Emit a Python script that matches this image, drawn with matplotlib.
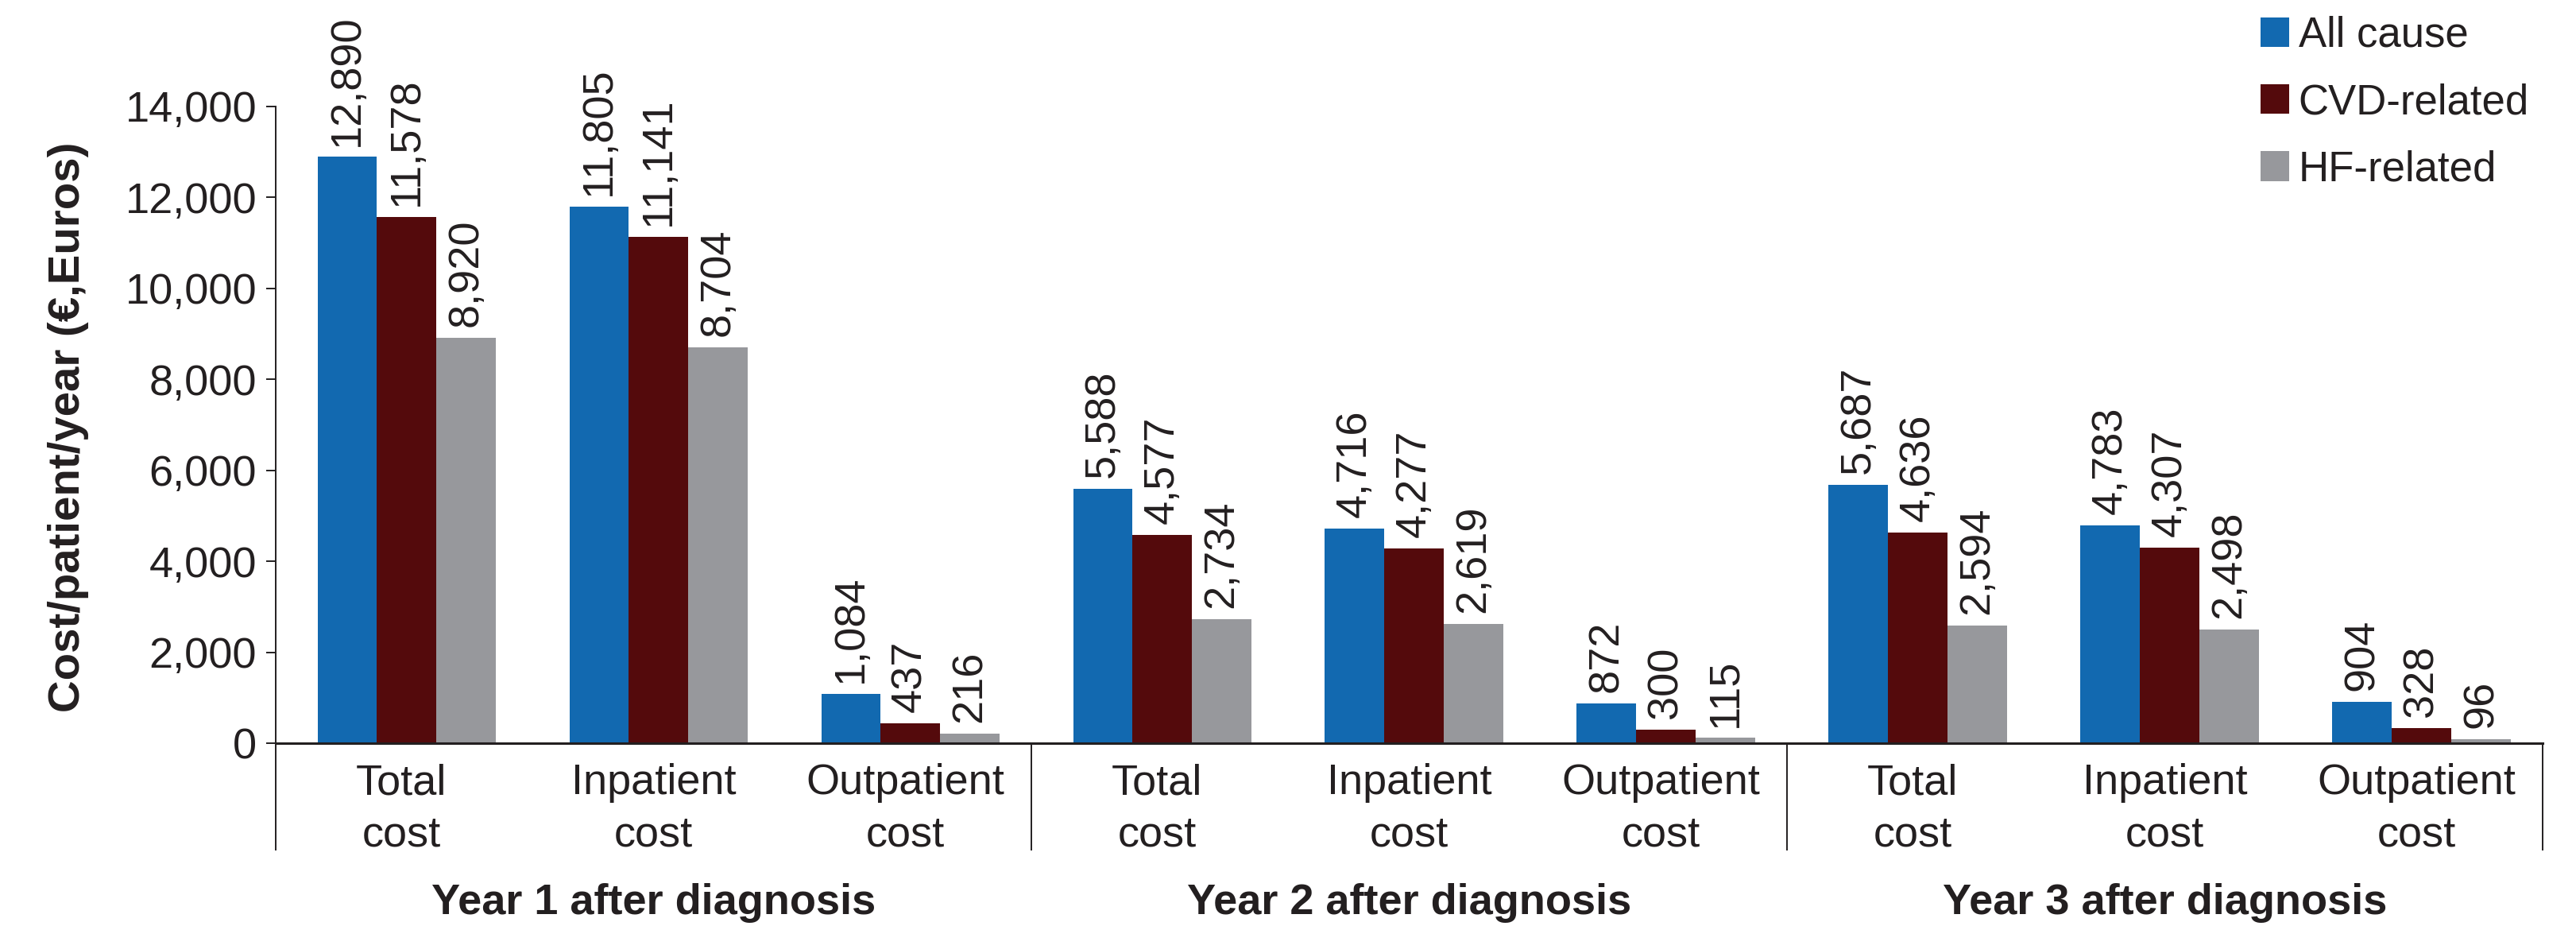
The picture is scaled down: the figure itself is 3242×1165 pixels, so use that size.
# -*- coding: UTF-8 -*-

"""Per-patient yearly cost after HF diagnosis, split by cost type and cause
"""

#+++++++++++++++++++++++++++++++++++++++++++++++++++++++++++++++++++++++++++++#

import numpy as np
import matplotlib
matplotlib.use('Agg')
import matplotlib.pyplot as plt
from matplotlib.ticker import FuncFormatter
from matplotlib.patches import Patch

plt.rcParams['font.family'] = ['Liberation Sans', 'DejaVu Sans']

#+++++++++++++++++++++++++++++++++++++++++++++++++++++++++++++++++++++++++++++#

YEARS = [ 'Year 1 after diagnosis', 'Year 2 after diagnosis',
  'Year 3 after diagnosis' ]
COST_TYPES = [ 'Total\ncost', 'Inpatient\ncost', 'Outpatient\ncost' ]
SERIES = [ 'All cause', 'CVD-related', 'HF-related' ]

# values per year: Total, Inpatient, Outpatient
ALL_CAUSE = [ 12890, 11805, 1084, 5588, 4716, 872, 5687, 4783, 904 ]
CVD_RELATED = [ 11578, 11141, 437, 4577, 4277, 300, 4636, 4307, 328 ]
HF_RELATED = [ 8920, 8704, 216, 2734, 2619, 115, 2594, 2498, 96 ]

COLORS = [ '#1269b0', '#540a0c', '#97989c' ]
INK = '#231f20'

FS = 19.5
WIDTH = 0.236

#+++++++++++++++++++++++++++++++++++++++++++++++++++++++++++++++++++++++++++++#

if __name__ == '__main__':

  fig = plt.figure(figsize = (16.21, 5.825), dpi = 200)
  ax = fig.add_axes([0.107, 0.1974, 0.880, 0.6876])

  centers = np.arange(len(ALL_CAUSE)) + 0.52

  for s, vals in enumerate( [ ALL_CAUSE, CVD_RELATED, HF_RELATED ] ):

    xs = centers + (s - 1) * WIDTH

    ax.bar(xs, vals, width = WIDTH, color = COLORS[s], linewidth = 0,
      zorder = 2)

    for x, v in zip( xs, vals ):
      ax.annotate(
        '{:,}'.format(v),
        xy = (x, v),
        xytext = (0, 5),
        textcoords = 'offset points',
        rotation = 90,
        ha = 'center',
        va = 'bottom',
        fontsize = FS,
        color = INK,
        annotation_clip = False)

  ax.set_xlim(0, 9)
  ax.set_ylim(0, 14000)
  ax.set_yticks(np.arange(0, 14001, 2000))
  ax.yaxis.set_major_formatter(FuncFormatter(lambda v, p: '{:,}'.format(int(v))))

  ax.set_xticks(np.arange(9) + 0.5)
  ax.set_xticklabels(COST_TYPES * 3, linespacing = 1.4)
  ax.tick_params(axis = 'x', length = 0, pad = 9, labelsize = FS,
    colors = INK)
  ax.tick_params(axis = 'y', length = 4.3, width = 0.7, pad = 4.3,
    labelsize = FS, colors = INK)

  for side in [ 'top', 'right' ]:
    ax.spines[side].set_visible(False)
  ax.spines['left'].set_linewidth(0.7)
  ax.spines['left'].set_color(INK)
  ax.spines['bottom'].set_linewidth(1.1)
  ax.spines['bottom'].set_color(INK)

  # group separators and year labels below the axis
  trans = ax.get_xaxis_transform()
  for g in range(4):
    ax.plot([3 * g, 3 * g], [0, -0.167], transform = trans, color = INK,
      linewidth = 0.7, clip_on = False)
  for g, year in enumerate( YEARS ):
    ax.text(3 * g + 1.5, -0.268, year, transform = trans, ha = 'center',
      va = 'baseline', fontsize = FS, fontweight = 'bold', color = INK)

  ax.set_ylabel('Cost/patient/year (€,Euros)', fontsize = 20.3,
    fontweight = 'bold', color = INK)
  ax.yaxis.set_label_coords(-0.0824, 0.497)

  handles = [ Patch(facecolor = c, edgecolor = 'none') for c in COLORS ]
  fig.legend(handles, SERIES,
    loc = 'upper left',
    bbox_to_anchor = (0.8776, 0.983),
    frameon = False,
    fontsize = 19,
    borderpad = 0,
    borderaxespad = 0,
    handlelength = 0.68,
    handleheight = 0.72,
    handletextpad = 0.22,
    labelspacing = 0.65,
    labelcolor = INK)

  plt.savefig('out.png', dpi = 200)
